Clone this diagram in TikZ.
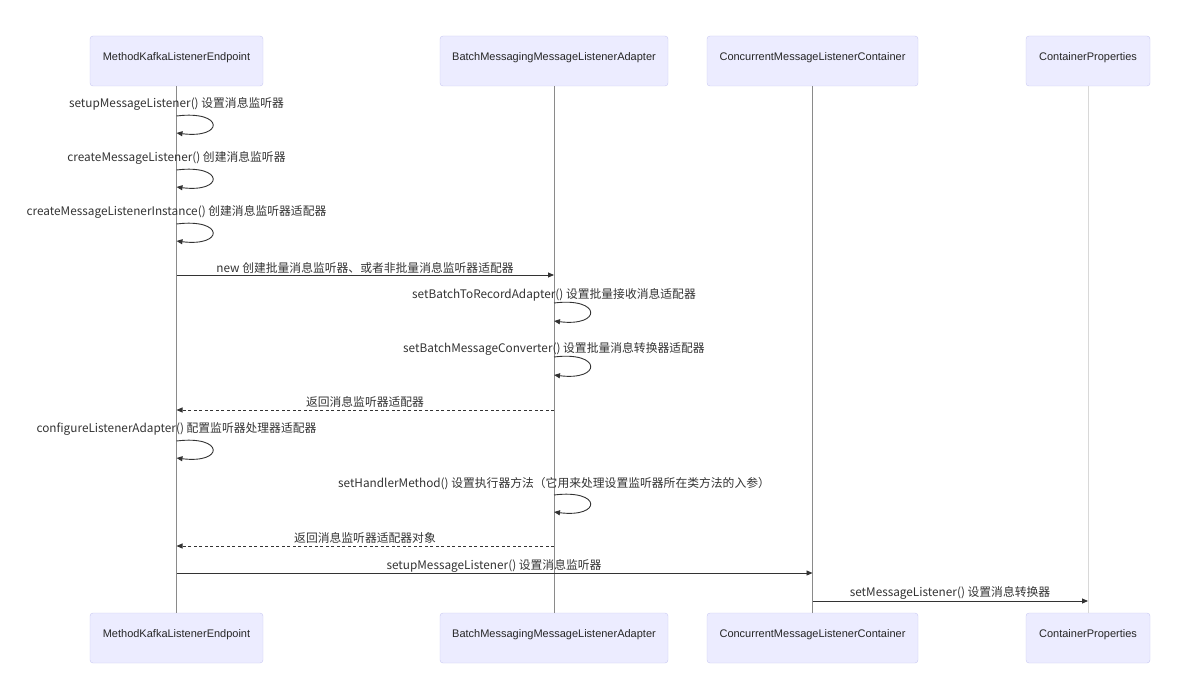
\documentclass[tikz,border=0pt]{standalone}
\usepackage{fontspec}
\setmainfont{Liberation Sans}
\newfontfamily\cjk{Noto Sans CJK SC}
\usetikzlibrary{arrows.meta}
\definecolor{actfill}{HTML}{ECECFF}
\definecolor{actdraw}{HTML}{C9C9F2}
\definecolor{life}{HTML}{8A8A8A}
\definecolor{lifelight}{HTML}{D8D8D8}
\definecolor{msg}{HTML}{333333}
\begin{document}
\begin{tikzpicture}[x=1pt,y=-1pt,
  actor/.style={draw=actdraw, fill=actfill, rounded corners=3pt, minimum height=50pt, inner sep=0pt, font=\fontsize{11}{13}\selectfont, text=black!85},
  atext/.style={font=\fontsize{11}{13}\selectfont, text=black!85, inner sep=0pt},
  lifeline/.style={draw=life, line width=0.7pt},
  msgline/.style={draw=msg, line width=0.9pt, -{Triangle[length=6pt,width=5pt]}},
  retline/.style={msgline, dash pattern=on 3pt off 2.5pt},
  lbl/.style={font=\cjk\fontsize{11.8}{14}\selectfont, text=msg, inner sep=0pt},
  selfloop/.style={msgline}
]
\useasboundingbox (0,0) rectangle (1180,687);

% actors top
\node[actor, minimum width=173pt] (t1) at (176.5,61) {};
\node[actor, minimum width=228pt] (t2) at (554,61) {};
\node[actor, minimum width=211pt] (t3) at (812.5,61) {};
\node[actor, minimum width=124pt] (t4) at (1088,61) {};
\node[atext] (t1x) at (176.5,57.5) {MethodKafkaListenerEndpoint};
\node[atext] (t2x) at (554,57.5) {BatchMessagingMessageListenerAdapter};
\node[atext] (t3x) at (812.5,57.5) {ConcurrentMessageListenerContainer};
\node[atext] (t4x) at (1088,57.5) {ContainerProperties};
% actors bottom
\node[actor, minimum width=173pt] (b1) at (176.5,638) {};
\node[actor, minimum width=228pt] (b2) at (554,638) {};
\node[actor, minimum width=211pt] (b3) at (812.5,638) {};
\node[actor, minimum width=124pt] (b4) at (1088,638) {};
\node[atext] (b1x) at (176.5,634.5) {MethodKafkaListenerEndpoint};
\node[atext] (b2x) at (554,634.5) {BatchMessagingMessageListenerAdapter};
\node[atext] (b3x) at (812.5,634.5) {ConcurrentMessageListenerContainer};
\node[atext] (b4x) at (1088,634.5) {ContainerProperties};

% lifelines
\draw[lifeline] (t1.south) -- (b1.north);
\draw[lifeline] (t2.south) -- (b2.north);
\draw[lifeline] (t3.south) -- (b3.north);
\draw[lifeline, draw=lifelight] (t4.south) -- (b4.north);

% self loops on lifeline 1
\coordinate (s1a) at (176.5,116); \coordinate (s1b) at (176.5,133);
\node[lbl] (l1) at (176.5,103.5) {setupMessageListener() 设置消息监听器};
\draw[selfloop] (s1a) .. controls +(48,-6) and +(48,6) .. (s1b);

\coordinate (s2a) at (176.5,170); \coordinate (s2b) at (176.5,187);
\node[lbl] (l2) at (176.5,157.5) {createMessageListener() 创建消息监听器};
\draw[selfloop] (s2a) .. controls +(48,-6) and +(48,6) .. (s2b);

\coordinate (s3a) at (176.5,224); \coordinate (s3b) at (176.5,241);
\node[lbl] (l3) at (176.5,211.5) {createMessageListenerInstance() 创建消息监听器适配器};
\draw[selfloop] (s3a) .. controls +(48,-6) and +(48,6) .. (s3b);

% new
\coordinate (m4a) at (176.5,275); \coordinate (m4b) at (554,275);
\node[lbl] (l4) at (365,267.5) {new 创建批量消息监听器、或者非批量消息监听器适配器};
\draw[msgline] (m4a) -- (m4b);

% self loops on lifeline 2
\coordinate (s5a) at (554,303); \coordinate (s5b) at (554,321);
\node[lbl] (l5) at (554,294.5) {setBatchToRecordAdapter() 设置批量接收消息适配器};
\draw[selfloop] (s5a) .. controls +(48,-6) and +(48,6) .. (s5b);

\coordinate (s6a) at (554,357); \coordinate (s6b) at (554,375);
\node[lbl] (l6) at (554,348.5) {setBatchMessageConverter() 设置批量消息转换器适配器};
\draw[selfloop] (s6a) .. controls +(48,-6) and +(48,6) .. (s6b);

% return
\coordinate (m7a) at (554,410); \coordinate (m7b) at (176.5,410);
\node[lbl] (l7) at (365,401.5) {返回消息监听器适配器};
\draw[retline] (m7a) -- (m7b);

\coordinate (s8a) at (176.5,441); \coordinate (s8b) at (176.5,458);
\node[lbl] (l8) at (176.5,429.5) {configureListenerAdapter() 配置监听器处理器适配器};
\draw[selfloop] (s8a) .. controls +(48,-6) and +(48,6) .. (s8b);

\coordinate (s9a) at (554,495); \coordinate (s9b) at (554,512);
\node[lbl] (l9) at (554,483.5) {setHandlerMethod() 设置执行器方法（它用来处理设置监听器所在类方法的入参）};
\draw[selfloop] (s9a) .. controls +(48,-6) and +(48,6) .. (s9b);

\coordinate (m10a) at (554,546); \coordinate (m10b) at (176.5,546);
\node[lbl] (l10) at (365,537.5) {返回消息监听器适配器对象};
\draw[retline] (m10a) -- (m10b);

\coordinate (m11a) at (176.5,573); \coordinate (m11b) at (812.5,573);
\node[lbl] (l11) at (494,565.5) {setupMessageListener() 设置消息监听器};
\draw[msgline] (m11a) -- (m11b);

\coordinate (m12a) at (812.5,601); \coordinate (m12b) at (1088,601);
\node[lbl] (l12) at (950,592.5) {setMessageListener() 设置消息转换器};
\draw[msgline] (m12a) -- (m12b);
\end{tikzpicture}
\end{document}
